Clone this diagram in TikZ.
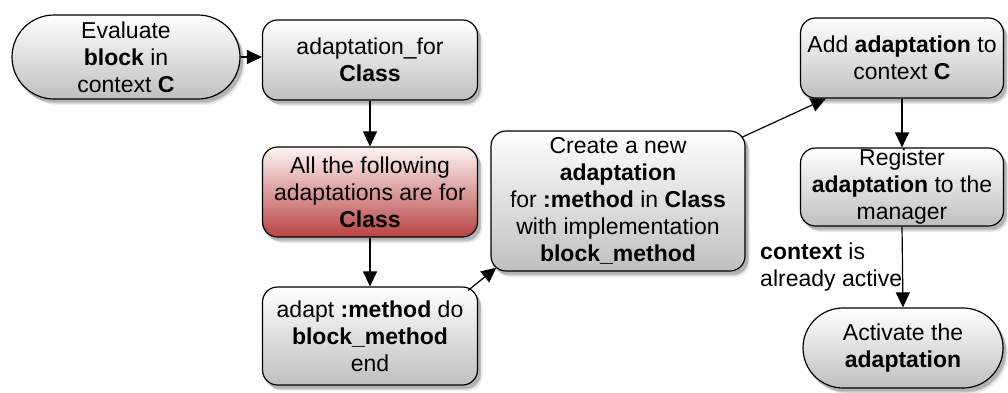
\documentclass[tikz,border=0pt]{standalone}
\usepackage{fontspec}
\setmainfont{Liberation Sans}
\usetikzlibrary{shapes.misc,shadows,arrows.meta}
\begin{document}
\begin{tikzpicture}[x=1pt,y=-1pt,
  softshadow/.style={
    general shadow={shadow xshift=2pt, shadow yshift=-3pt, fill=black, opacity=0.13, shadow scale=1.01},
    general shadow={shadow xshift=3.5pt, shadow yshift=-4.5pt, fill=black, opacity=0.13},
    general shadow={shadow xshift=5pt, shadow yshift=-6pt, fill=black, opacity=0.08}},
  base/.style={draw=black, line width=1.2pt, align=center, inner sep=0pt,
    font=\fontsize{23}{27}\selectfont, softshadow},
  box/.style={base, rounded corners=15pt, top color=white, bottom color=black!25},
  redbox/.style={base, rounded corners=15pt, top color=red!4!white, bottom color={rgb,255:red,184;green,66;blue,66}},
  pill/.style={base, shape=rounded rectangle, top color=white, bottom color=black!25},
  arr/.style={-{Triangle[length=15pt,width=14pt]}, line width=1.2pt}
]
\useasboundingbox (0,0) rectangle (1008,392);

\node[pill, minimum width=228pt, minimum height=84pt] (ev) at (126,57)
  {Evaluate\\\textbf{block} in\\context \textbf{C}};
\node[box, minimum width=215pt, minimum height=80pt] (af) at (370,60)
  {adaptation\_for\\\textbf{Class}};
\node[redbox, minimum width=215pt, minimum height=90pt] (red) at (370,192)
  {All the following\\adaptations are for\\\textbf{Class}};
\node[box, minimum width=215pt, minimum height=98pt] (ad) at (370,336)
  {adapt \textbf{:method} do\\\textbf{block\_method}\\end};
\node[box, minimum width=254pt, minimum height=140pt] (cr) at (618,201)
  {Create a new\\\textbf{adaptation}\\for \textbf{:method} in \textbf{Class}\\with implementation\\\textbf{block\_method}};
\node[box, minimum width=203pt, minimum height=80pt] (add) at (902,58)
  {Add \textbf{adaptation} to\\context \textbf{C}};
\node[box, minimum width=203pt, minimum height=78pt] (reg) at (902,187)
  {Register\\\textbf{adaptation} to the\\manager};
\node[pill, minimum width=200pt, minimum height=80pt] (act) at (903,348)
  {Activate the\\\textbf{adaptation}};

\node[anchor=north west, align=left, inner sep=0pt, font=\fontsize{23}{27}\selectfont] (lbl) at (760,243)
  {\textbf{context} is\\already active};

\draw[arr] (ev.east) -- (ev.east -| af.west);
\draw[arr] (af.south) -- (red.north);
\draw[arr] (red.south) -- (ad.north);
\draw[arr] ([xshift=-10pt,yshift=-4pt]ad.north east) -- ([xshift=6pt,yshift=4pt]cr.south west);
\draw[arr] ([xshift=-4pt,yshift=-7pt]cr.north east) -- ([xshift=26pt]add.south west);
\draw[arr] (add.south) -- (reg.north);
\draw[arr] (reg.south) -- (act.north);
\end{tikzpicture}
\end{document}
